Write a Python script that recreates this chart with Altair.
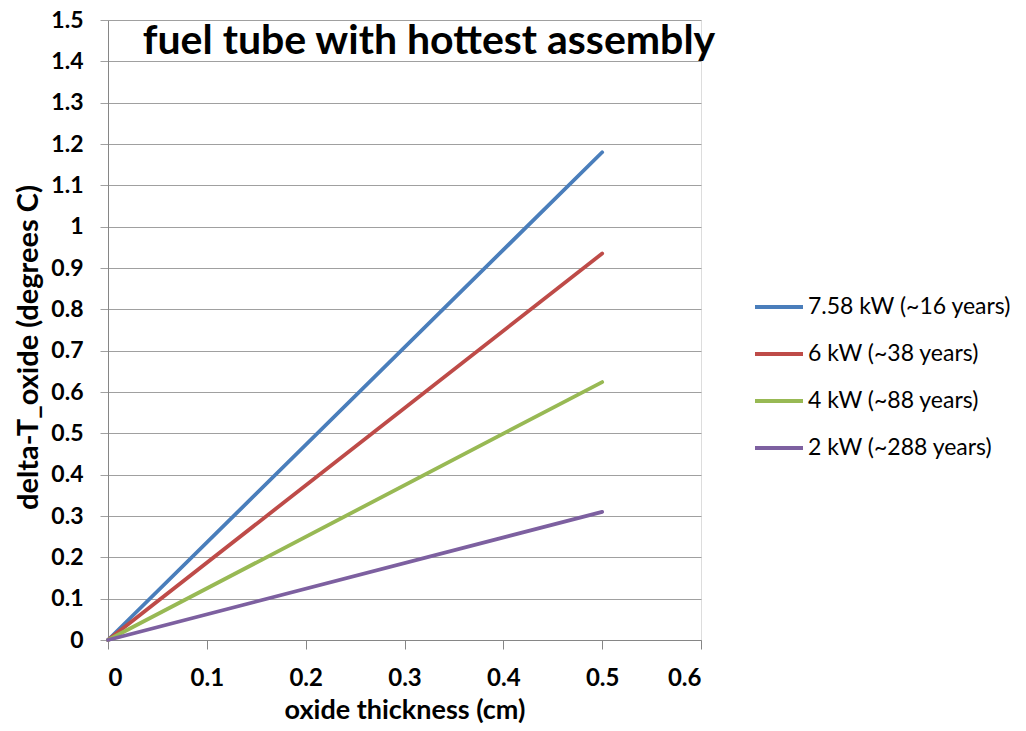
import altair as alt
import pandas as pd

series = ["7.58 kW (~16 years)", "6 kW (~38 years)", "4 kW (~88 years)", "2 kW (~288 years)"]
colors = ["#4A7EBB", "#BE4B48", "#98B954", "#7D60A0"]
x_vals = [0.0, 0.5]
y_vals = {
    "7.58 kW (~16 years)": [0.0, 1.18],
    "6 kW (~38 years)": [0.0, 0.935],
    "4 kW (~88 years)": [0.0, 0.624],
    "2 kW (~288 years)": [0.0, 0.31],
}
y_ticks = [round(i * 0.1, 1) for i in range(16)]
x_ticks = [round(i * 0.1, 1) for i in range(7)]
title_text = "fuel tube with hottest assembly"

rows = []
for s in series:
    for xv, yv in zip(x_vals, y_vals[s]):
        rows.append({"series": s, "x": xv, "y": yv})
df = pd.DataFrame(rows)

FONT = "Lato"

lines = alt.Chart(df).mark_line(strokeWidth=3.8, strokeCap="round").encode(
    x=alt.X("x:Q", scale=alt.Scale(domain=[0, 0.6], nice=False),
            axis=alt.Axis(values=x_ticks, format="~g", title="oxide thickness (cm)", grid=False,
                          labelFont=FONT, labelFontSize=24, labelFontWeight="bold", labelColor="#000",
                          labelPadding=17, tickSize=9, tickColor="#868686", domainColor="#868686",
                          titleFont=FONT, titleFontSize=27, titleFontWeight="bold", titleColor="#000",
                          titlePadding=7)),
    y=alt.Y("y:Q", scale=alt.Scale(domain=[0, 1.5], nice=False),
            axis=alt.Axis(values=y_ticks, format="~g", title="delta-T_oxide (degrees C)",
                          grid=True, gridColor="#a0a0a0", gridWidth=1,
                          labelFont=FONT, labelFontSize=23, labelFontWeight="bold", labelColor="#000",
                          labelPadding=17, tickSize=8, tickColor="#a0a0a0", domainColor="#868686",
                          titleFont=FONT, titleFontSize=29, titleFontWeight="bold", titleColor="#000",
                          titlePadding=7, titleY=327)),
    color=alt.Color("series:N", scale=alt.Scale(domain=series, range=colors), sort=series,
                    legend=alt.Legend(title=None, orient="none", legendX=645, legendY=261,
                                      symbolType="stroke", symbolSize=2304, symbolStrokeWidth=3.8,
                                      labelFont=FONT, labelFontSize=23, labelColor="#000",
                                      rowPadding=9, labelOffset=3, labelLimit=300)),
    detail="series:N",
)

title_df = pd.DataFrame({"t": [title_text]})
title = alt.Chart(title_df).mark_text(font=FONT, fontSize=41, fontWeight="bold", color="#000",
                                      align="center", baseline="alphabetic").encode(
    text="t:N", x=alt.value(321), y=alt.value(34))

chart = alt.layer(lines, title).properties(
    width=593, height=620,
    autosize=alt.AutoSizeParams(type="none"),
    padding={"left": 100, "top": 12, "right": 317, "bottom": 83},
).configure_view(stroke=None).configure(background="white")

chart.save("out.html", embed_options={"renderer": "svg", "actions": False})
